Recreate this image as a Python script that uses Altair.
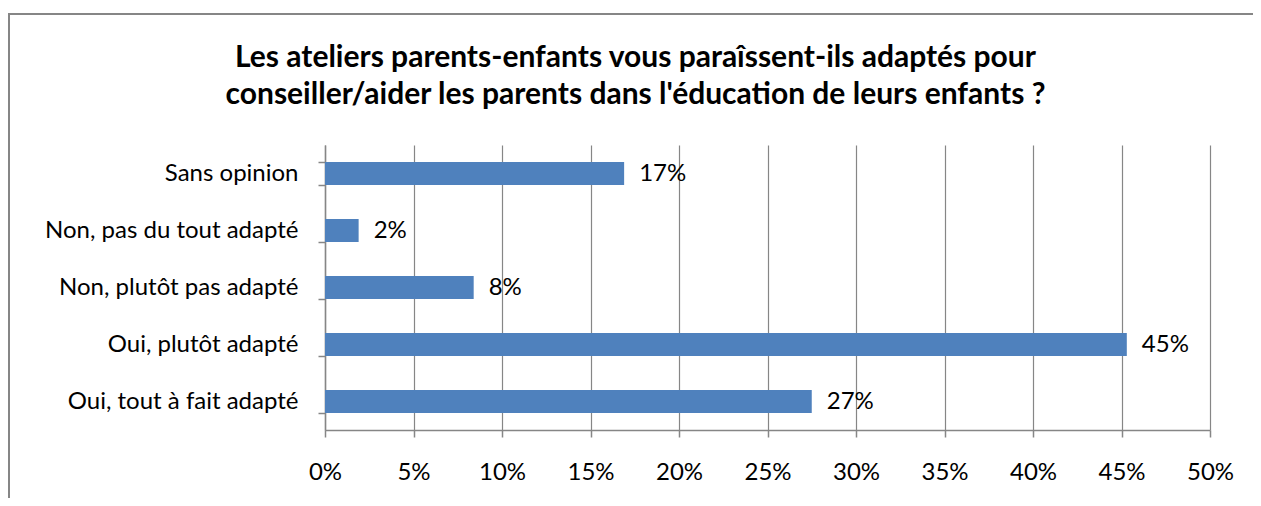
import altair as alt
import pandas as pd

categories = [
    "Sans opinion",
    "Non, pas du tout adapté",
    "Non, plutôt pas adapté",
    "Oui, plutôt adapté",
    "Oui, tout à fait adapté",
]
values = [0.169, 0.019, 0.084, 0.453, 0.275]
labels = ["17%", "2%", "8%", "45%", "27%"]
x_ticks = [0, 0.05, 0.10, 0.15, 0.20, 0.25, 0.30, 0.35, 0.40, 0.45, 0.50]
title_lines = [
    "Les ateliers parents-enfants vous paraîssent-ils adaptés pour",
    "conseiller/aider les parents dans l'éducation de leurs enfants ?",
]

df = pd.DataFrame({"cat": categories, "val": values, "lab": labels})

FONT = "Lato"
GRAY = "#868686"
FS = 24

y_enc = alt.Y(
    "cat:N",
    sort=categories,
    title=None,
    scale=alt.Scale(paddingInner=0.6, paddingOuter=0.3),
    axis=alt.Axis(
        tickBand="extent",
        domainColor=GRAY,
        domainWidth=1.5,
        tickColor=GRAY,
        tickWidth=1.5,
        tickSize=7,
        labelPadding=20,
        labelLimit=0,
        labelFont=FONT,
        labelFontSize=FS,
        labelColor="black",
        grid=False,
    ),
)
x_enc = alt.X(
    "val:Q",
    title=None,
    scale=alt.Scale(domain=[0, 0.5], nice=False, zero=True),
    axis=alt.Axis(
        values=x_ticks,
        format=".0%",
        domainColor=GRAY,
        domainWidth=1.5,
        tickColor=GRAY,
        tickWidth=1.5,
        tickSize=7,
        labelPadding=23,
        labelFlush=False,
        labelOverlap=False,
        labelFont=FONT,
        labelFontSize=FS,
        labelColor="black",
        grid=True,
        gridColor=GRAY,
        gridWidth=1.2,
        gridOpacity=1,
    ),
)

base = alt.Chart(df)
bars = base.mark_bar(color="#4F81BD").encode(y=y_enc, x=x_enc)
texts = base.mark_text(
    align="left", baseline="middle", dx=15, font=FONT, fontSize=FS, color="black"
).encode(y=alt.Y("cat:N", sort=categories), x="val:Q", text="lab:N")

frame = alt.Chart(alt.Data(values=[{}])).mark_rect(
    fill=None, stroke=GRAY, strokeWidth=2
).encode(
    x=alt.value(-316), x2=alt.value(1000), y=alt.value(-131), y2=alt.value(600)
)

chart = (
    alt.layer(frame, bars, texts)
    .properties(
        width=885,
        height=285,
        autosize=alt.AutoSizeParams(type="none"),
        padding={"left": 317, "top": 137, "right": 43, "bottom": 68},
        title=alt.TitleParams(
            text=title_lines,
            font=FONT,
            fontSize=30,
            fontWeight="bold",
            color="black",
            anchor="middle",
            frame="group",
            dx=-132,
            offset=-97,
            lineHeight=37,
        ),
    )
    .configure_view(stroke=None)
)

chart.save("out.html", embed_options={"renderer": "svg", "actions": False})
